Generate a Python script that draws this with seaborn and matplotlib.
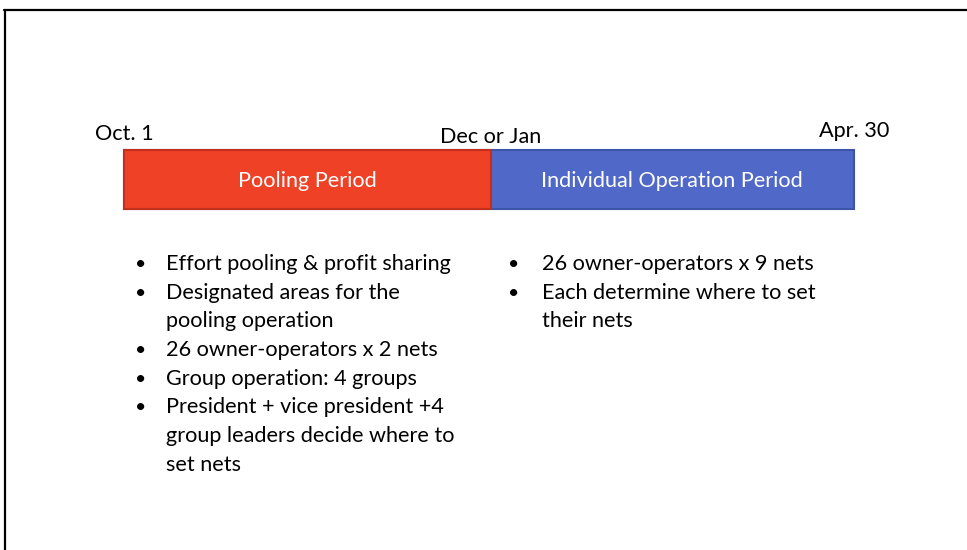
import matplotlib
matplotlib.use('Agg')
import matplotlib.pyplot as plt
import seaborn as sns
from matplotlib.lines import Line2D

# Season timeline, in days counted from Oct. 1
periods = ['Pooling Period', 'Individual Operation Period']
period_start = [0, 106]
period_end = [106, 211]
period_colors = ['#EE4125', '#5068C8']
edge_colors = ['#C0301C', '#3D55A8']
date_labels = ['Oct. 1', 'Dec or Jan', 'Apr. 30']
date_days = [0, 106, 211]
date_baseline = [140, 143, 137]   # pixel baselines, labels are staggered a bit

pooling_notes = [
    'Effort pooling & profit sharing',
    'Designated areas for the\npooling operation',
    '26 owner-operators x 2 nets',
    'Group operation: 4 groups',
    'President + vice president +4\ngroup leaders decide where to\nset nets',
]
individual_notes = [
    '26 owner-operators x 9 nets',
    'Each determine where to set\ntheir nets',
]

sns.set_theme(style='white')
plt.rcParams['font.family'] = ['Lato', 'DejaVu Sans']
FS = 15.6

W, H = 967, 550
fig = plt.figure(figsize=(W / 100, H / 100), dpi=100)
fig.patch.set_facecolor('white')

# slide frame (top and left edges only are visible)
fig.add_artist(Line2D([4 / W, 1], [1 - 10 / H, 1 - 10 / H], color='black', lw=1.6))
fig.add_artist(Line2D([4.5 / W, 4.5 / W], [0, 1 - 10 / H], color='black', lw=1.6))

# timeline bar axes: 124..854 px wide, 150..209 px tall
ax = fig.add_axes([124 / W, 1 - 209 / H, (854 - 124) / W, (209 - 150) / H])
# full bar in blue, pooling part drawn on top in red
sns.barplot(x=[period_end[1]], y=['season'], orient='h', color=period_colors[1],
            width=1.0, edgecolor=edge_colors[1], linewidth=1.5, saturation=1, ax=ax)
sns.barplot(x=[period_end[0]], y=['season'], orient='h', color=period_colors[0],
            width=1.0, edgecolor=edge_colors[0], linewidth=1.5, saturation=1, ax=ax)
for p in ax.patches:
    p.set_clip_on(False)
ax.set_xlim(date_days[0], date_days[-1])
ax.set_ylim(0.5, -0.5)
ax.axis('off')

for name, s, e in zip(periods, period_start, period_end):
    ax.text((s + e) / 2, 0.02, name, ha='center', va='center',
            color='white', fontsize=FS)

for lab, d, yb in zip(date_labels, date_days, date_baseline):
    fig.text(124 / W + d / 211 * (854 - 124) / W, 1 - yb / H, lab,
             ha='center', va='baseline', fontsize=FS, color='black')

# bullet lists
line_h = 28.7


def bullets(notes, x_dot, x_txt, y0):
    y = y0
    for note in notes:
        fig.text(x_dot / W, 1 - y / H, '\u2022', ha='center', va='baseline',
                 fontsize=14, color='black')
        for part in note.split('\n'):
            fig.text(x_txt / W, 1 - y / H, part, ha='left', va='baseline',
                     fontsize=FS, color='black')
            y += line_h


bullets(pooling_notes, 141, 166, 270)
bullets(individual_notes, 514, 542, 270)

fig.savefig('out.png', dpi=100)
